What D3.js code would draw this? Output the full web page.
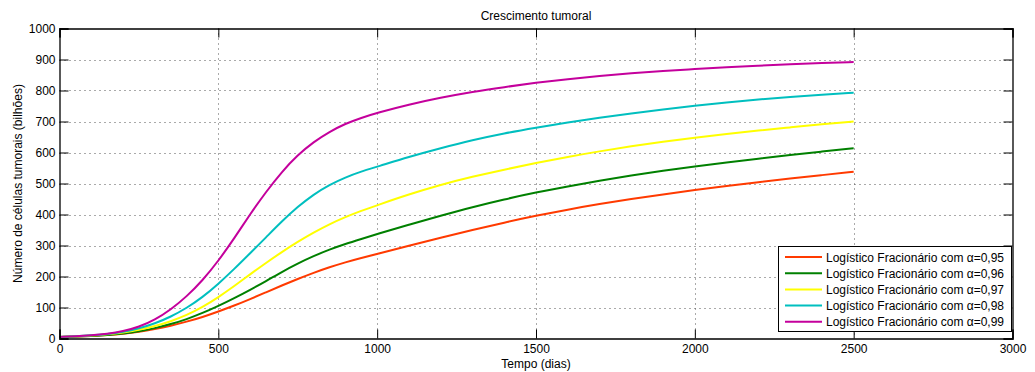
<!DOCTYPE html>
<html><head><meta charset="utf-8">
<script src="https://cdn.jsdelivr.net/npm/d3@7"></script>
<style>
body{margin:0;background:#fff;}
text{font-family:"Liberation Sans",Arial,Helvetica,sans-serif;fill:#000;}
</style></head>
<body><svg id="c" width="1035" height="372"></svg>
<script>
const title = "Crescimento tumoral";
const xLabel = "Tempo (dias)";
const yLabel = "Número de células tumorais (bilhões)";
const xTicks = [0,500,1000,1500,2000,2500,3000];
const yTicks = [0,100,200,300,400,500,600,700,800,900,1000];
const days = [0,50,100,150,200,250,300,350,400,450,500,550,600,650,700,750,800,850,900,950,1000,1100,1200,1300,1400,1500,1600,1700,1800,1900,2000,2100,2200,2300,2400,2500];
const alpha95 = [5,6,8,11,15,21,30,41,54,69,87,106,127,149,171,192,212,230,246,260,273,299,325,350,374,396,416,434,450,465,479,492,504,516,527,538];
const alpha96 = [5,6,8,11,16,23,33,46,62,82,105,130,157,185,215,242,266,287,305,321,337,367,396,424,449,471,491,509,526,541,555,568,580,592,603,614];
const alpha97 = [5,7,9,13,19,28,40,55,75,101,133,169,207,244,279,312,342,369,392,412,430,465,496,522,545,566,586,604,620,635,648,660,671,681,691,700];
const alpha98 = [5,7,10,14,21,32,48,70,98,133,176,224,275,326,378,425,465,496,520,539,554,586,614,640,662,680,697,712,726,739,751,762,771,779,786,793];
const alpha99 = [5,7,10,15,23,37,60,93,135,187,250,323,401,473,538,592,634,667,693,712,728,755,777,796,811,825,837,847,856,863,869,875,880,885,889,892];
const seriesNames = ["Logístico Fracionário com α=0,95","Logístico Fracionário com α=0,96","Logístico Fracionário com α=0,97","Logístico Fracionário com α=0,98","Logístico Fracionário com α=0,99"];
const seriesColors = ["#ff3a00","#008000","#ffff00","#00bfbf","#c4009c"];
const seriesValues = [alpha95,alpha96,alpha97,alpha98,alpha99];

const svg = d3.select("#c");
const L=59.5, R=1012.5, T=28.5, B=338.5;
const x = d3.scaleLinear().domain([0,3000]).range([L,R]);
const y = d3.scaleLinear().domain([0,1000]).range([B,T]);
const FS = "12px";

// grid
const g = svg.append("g");
g.selectAll(".vg").data(xTicks.slice(1,-1)).enter().append("line")
 .attr("x1",d=>Math.round(x(d))+0.5).attr("x2",d=>Math.round(x(d))+0.5)
 .attr("y1",T).attr("y2",B).attr("stroke","#555").attr("stroke-width",1).attr("stroke-dasharray","1,4");
g.selectAll(".hg").data(yTicks.slice(1,-1)).enter().append("line")
 .attr("y1",d=>Math.round(y(d))+0.5).attr("y2",d=>Math.round(y(d))+0.5)
 .attr("x1",L).attr("x2",R).attr("stroke","#555").attr("stroke-width",1).attr("stroke-dasharray","1,4");

// lines
const line = d3.line().x((d,i)=>x(days[i])).y(d=>y(d)).curve(d3.curveBasis);
seriesValues.forEach((vals,k)=>{
  svg.append("path").attr("d",line(vals)).attr("fill","none")
   .attr("stroke",seriesColors[k]).attr("stroke-width",2);
});

// axes (box with inward ticks)
const tl = 9;
const xb = d3.axisBottom(x).tickValues(xTicks).tickSize(-tl).tickPadding(6).tickFormat(d3.format("d"));
const xt = d3.axisTop(x).tickValues(xTicks).tickSize(-tl).tickFormat("");
const yl = d3.axisLeft(y).tickValues(yTicks).tickSize(-tl).tickPadding(4).tickFormat(d3.format("d"));
const yr = d3.axisRight(y).tickValues(yTicks).tickSize(-tl).tickFormat("");
function style(sel){
  sel.selectAll("path").attr("stroke","#000").attr("stroke-width",1.3);
  sel.selectAll("line").attr("stroke","#000").attr("stroke-width",1);
  sel.selectAll("text").attr("font-size",FS).attr("font-family","Liberation Sans, Arial, sans-serif").attr("fill","#000");
}
style(svg.append("g").attr("transform",`translate(0,${B})`).call(xb));
style(svg.append("g").attr("transform",`translate(0,${T})`).call(xt));
style(svg.append("g").attr("transform",`translate(${L},0)`).call(yl));
style(svg.append("g").attr("transform",`translate(${R},0)`).call(yr));

// labels
svg.append("text").attr("x",(L+R)/2).attr("y",19.5).attr("text-anchor","middle").attr("font-size",FS).text(title);
svg.append("text").attr("x",(L+R)/2).attr("y",368).attr("text-anchor","middle").attr("font-size",FS).text(xLabel);
svg.append("text").attr("transform",`translate(21.5,${(T+B)/2}) rotate(-90)`).attr("text-anchor","middle").attr("font-size",FS).text(yLabel);

// legend
const lg = svg.append("g");
lg.append("rect").attr("x",778.5).attr("y",246.5).attr("width",233).attr("height",85)
  .attr("fill","#fff").attr("stroke","#000").attr("stroke-width",1);
seriesNames.forEach((n,k)=>{
  const yy = 257 + k*16.2;
  lg.append("line").attr("x1",785).attr("x2",822).attr("y1",yy).attr("y2",yy)
    .attr("stroke",seriesColors[k]).attr("stroke-width",2);
  lg.append("text").attr("x",826).attr("y",yy+4.5).attr("font-size",FS).text(n);
});
</script></body></html>
